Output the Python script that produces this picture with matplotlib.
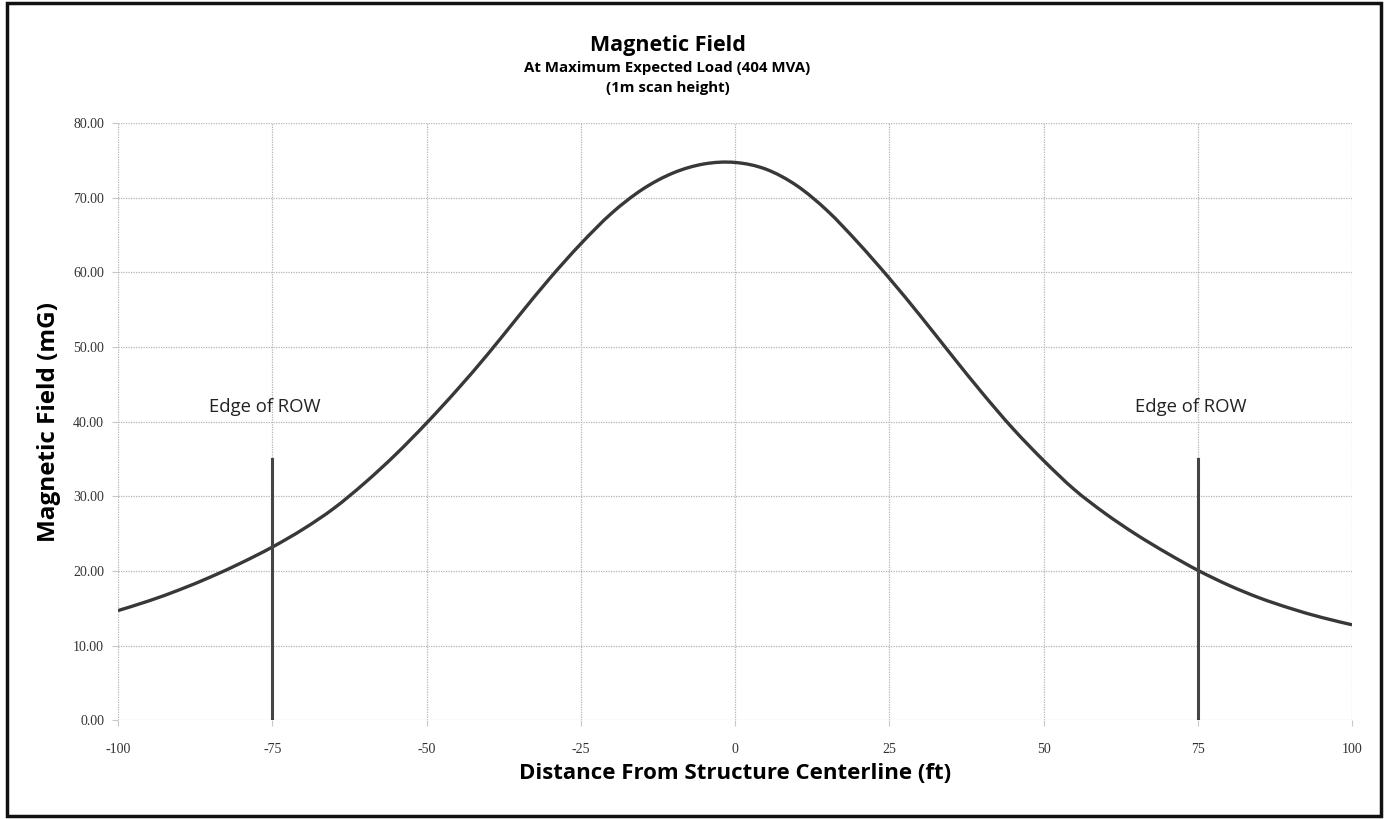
import numpy as np
import matplotlib.pyplot as plt
from matplotlib.patches import Rectangle, PathPatch
from matplotlib.path import Path

# distance from centerline (ft) and field (mG)
distance = [-100, -95, -90, -85, -80, -75, -70, -65, -60, -55, -50, -45, -40, -35, -30, -25, -20,
            -15, -10, -5, 0, 5, 10, 15, 20, 25, 30, 35, 40, 45, 50, 55, 60, 65, 70, 75, 80, 85,
            90, 95, 100]
field = [14.7, 16.0, 17.5, 19.2, 21.1, 23.2, 25.6, 28.4, 31.8, 35.6, 39.8, 44.3, 49.1, 54.2, 59.2,
         63.8, 67.9, 71.1, 73.3, 74.5, 74.7, 73.8, 71.6, 68.2, 63.9, 59.2, 54.2, 49.0, 43.9, 39.1,
         34.8, 30.9, 27.7, 24.9, 22.4, 20.1, 18.1, 16.4, 15.0, 13.8, 12.8]

row_edges = [-75, 75]
row_height = 35
row_label = "Edge of ROW"
row_label_y = 42

x_ticks = [-100, -75, -50, -25, 0, 25, 50, 75, 100]
y_ticks = [0, 10, 20, 30, 40, 50, 60, 70, 80]


def smooth_path(xs, ys):
    # Excel-style smoothed line: Catmull-Rom segments as cubic Beziers
    p = np.column_stack([xs, ys]).astype(float)
    verts = [p[0]]
    codes = [Path.MOVETO]
    for i in range(len(p) - 1):
        p0 = p[i - 1] if i > 0 else p[i]
        p3 = p[i + 2] if i + 2 < len(p) else p[i + 1]
        c1 = p[i] + (p[i + 1] - p0) / 6
        c2 = p[i + 1] - (p3 - p[i]) / 6
        verts += [c1, c2, p[i + 1]]
        codes += [Path.CURVE4] * 3
    return Path(verts, codes)


fig = plt.figure(figsize=(13.85, 8.19), dpi=100)
ax = fig.add_axes([0.0852, 0.1204, 0.8910, 0.7296])

ax.add_patch(PathPatch(smooth_path(distance, field), facecolor="none", edgecolor="#383838",
                       linewidth=2.4, zorder=3))
for xe in row_edges:
    ax.plot([xe, xe], [0, row_height], color="#454545", linewidth=2.2, zorder=3)
    ax.text(xe - 1.2, row_label_y, row_label, ha="center", va="center", fontsize=13.3,
            family="Open Sans", color="#222222")

ax.set_xlim(-100, 100)
ax.set_ylim(0, 80)
ax.set_xticks(x_ticks)
ax.set_yticks(y_ticks)
ax.set_xticklabels([str(t) for t in x_ticks], family="Liberation Serif", fontsize=10, color="#333333")
ax.set_yticklabels([f"{t:.2f}" for t in y_ticks], family="Liberation Serif", fontsize=10, color="#333333")
ax.tick_params(axis="x", length=4, color="#c8c8c8", pad=12)
ax.tick_params(axis="y", length=4, color="#c8c8c8", pad=6)
ax.grid(True, color="#b5b5b5", linestyle=(0, (1, 1)), linewidth=0.9)
ax.set_axisbelow(True)
for s in ax.spines.values():
    s.set_visible(False)

ax.set_xlabel("Distance From Structure Centerline (ft)", family="Open Sans", fontweight="bold",
              fontsize=16, labelpad=5)
ax.set_ylabel("Magnetic Field (mG)", family="Open Sans", fontweight="bold", fontsize=17.5, labelpad=9)

fig.text(0.482, 0.945, "Magnetic Field", ha="center", va="center", family="Open Sans",
         fontweight="bold", fontsize=15.5)
fig.text(0.482, 0.917, "At Maximum Expected Load (404 MVA)", ha="center", va="center",
         family="Open Sans", fontweight="bold", fontsize=10.8)
fig.text(0.482, 0.892, "(1m scan height)", ha="center", va="center", family="Open Sans",
         fontweight="bold", fontsize=10.8)

fig.patches.append(Rectangle((0.005, 0.004), 0.992, 0.992, transform=fig.transFigure,
                             fill=False, edgecolor="#111111", linewidth=2.5))

fig.savefig("out.png", dpi=100)
